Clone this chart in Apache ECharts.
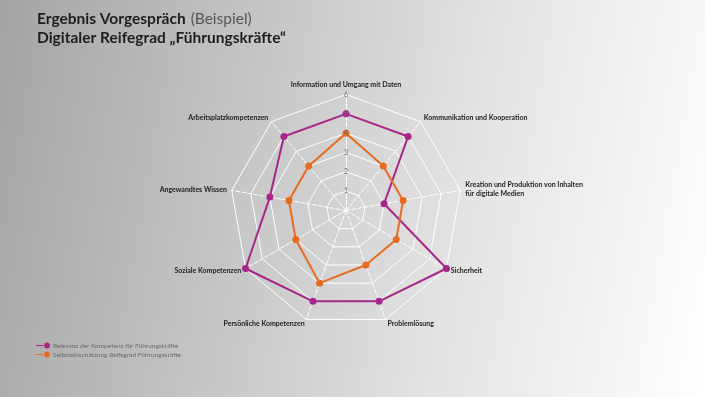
<!DOCTYPE html>
<html>
<head>
<meta charset="utf-8">
<script src="https://cdn.jsdelivr.net/npm/echarts@6/dist/echarts.min.js"></script>
<style>
html,body{margin:0;padding:0;}
#c{width:705px;height:397px;background:linear-gradient(100deg,#a4a4a4 0%,#c6c6c6 35%,#e4e4e4 65%,#ffffff 100%);}
</style>
</head>
<body>
<div id="c"></div>
<script>
// categories clockwise from top
var categories = ['Information und Umgang mit Daten','Kommunikation und Kooperation','Kreation und Produktion von Inhalten\nfür digitale Medien','Sicherheit','Problemlösung','Persönliche Kompetenzen','Soziale Kompetenzen','Angewandtes Wissen','Arbeitsplatzkompetenzen'];
var relevanz = [5,5,2,6,5,5,6,4,5];
var selbst = [4,3,3,3,3,4,3,3,3];
var seriesNames = ['Relevanz der Kompetenz für Führungskräfte','Selbsteinschätzung Reifegrad Führungskräfte'];
var tickLabels = ['', '1', '2', '3', '4', '5', '6'];
var maxValue = 6;

// ECharts radar runs counter-clockwise: keep first, reverse the rest
function ccw(arr){ return [arr[0]].concat(arr.slice(1).reverse()); }

var FONT = 'Lato';
var indicators = ccw(categories).map(function(n){ return {name:n, min:0, max:maxValue}; });

var magenta = '#a8268a', orange = '#e66b1e';
var legendIcon = 'path://M0,4.2h10v1.6h-10z M11,5a4,4 0 1,0 8,0a4,4 0 1,0 -8,0z';
var CENTER = [346,210.5], RADIUS = 116;

var chart = echarts.init(document.getElementById('c'));
chart.setOption({
  animation:false,
  title:{
    left:37, top:9, padding:0,
    text:'{b|Ergebnis Vorgespräch} {r|(Beispiel)}\n{b|Digitaler Reifegrad „Führungskräfte“}',
    textStyle:{
      rich:{
        b:{fontFamily:FONT, fontWeight:'bold', fontSize:15.5, color:'#1e1e1e', lineHeight:19},
        r:{fontFamily:FONT, fontWeight:'normal', fontSize:15.5, color:'#555', lineHeight:19}
      }
    }
  },
  legend:{
    orient:'vertical', left:36, top:342, itemGap:2, padding:0,
    itemWidth:14, itemHeight:6,
    itemStyle:{borderWidth:0},
    lineStyle:{width:0},
    textStyle:{fontFamily:FONT, fontSize:6.5, color:'#6a6a6a', padding:[0,0,0,-2]},
    data:[
      {name:seriesNames[0], icon:legendIcon, itemStyle:{color:magenta, borderWidth:0}},
      {name:seriesNames[1], icon:legendIcon, itemStyle:{color:orange, borderWidth:0}}
    ]
  },
  polar:{center:CENTER, radius:RADIUS},
  angleAxis:{show:false, startAngle:90, min:0, max:360},
  radiusAxis:{
    min:0, max:maxValue, interval:1, z:10,
    axisLine:{show:false}, axisTick:{show:false}, splitLine:{show:false},
    axisLabel:{show:true, color:'#6e6e6e', fontSize:7, fontFamily:FONT, margin:0, align:'center', verticalAlign:'middle',
      formatter:function(v){ return tickLabels[v] || ''; }}
  },
  radar:{
    center:CENTER, radius:RADIUS, startAngle:90, z:1,
    shape:'polygon', splitNumber:6,
    indicator:indicators,
    axisName:{color:'#1e1e1e', fontFamily:FONT, fontWeight:'bold', fontSize:7, lineHeight:9},
    nameGap:5,
    splitArea:{show:false},
    splitLine:{lineStyle:{color:'#ffffff', width:1}},
    axisLine:{lineStyle:{color:'#ffffff', width:1, type:'dashed'}},
    axisLabel:{show:false},
    axisTick:{show:false}
  },
  series:[{
    type:'radar',
    symbol:'circle', symbolSize:7, z:3,
    data:[
      {name:seriesNames[0], value:ccw(relevanz), lineStyle:{color:magenta,width:2}, itemStyle:{color:magenta}},
      {name:seriesNames[1], value:ccw(selbst), lineStyle:{color:orange,width:2}, itemStyle:{color:orange}}
    ]
  }],
  color:[magenta, orange]
});
</script>
</body>
</html>
